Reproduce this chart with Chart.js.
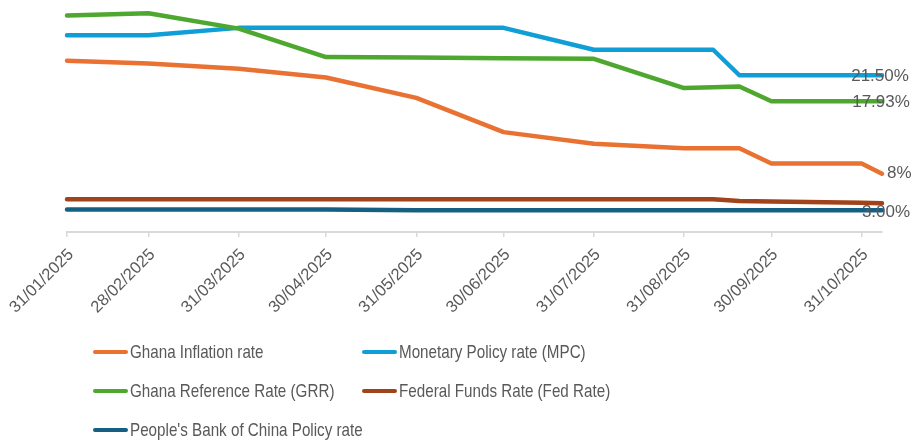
<!DOCTYPE html>
<html>
<head>
<meta charset="utf-8">
<script src="https://cdn.jsdelivr.net/npm/chart.js@4"></script>
<style>
    html, body { margin: 0; padding: 0; background: #fff; }
    #wrap { position: relative; width: 914px; height: 440px; }
    #legend {
        position: absolute; left: 93px; top: 332px;
        display: grid; grid-template-columns: 269px 400px; row-gap: 0;
        font: 19px 'Liberation Sans', Arial, sans-serif;
        color: #595959;
    }
    #legend .item { display: flex; align-items: center; height: 39px; white-space: nowrap; }
    #legend .swatch { flex: 0 0 35px; width: 35px; height: 4px; border-radius: 2px; margin-right: 2px; }
    #legend .txt { display: inline-block; transform: scaleX(0.8); transform-origin: left center; }
</style>
</head>
<body>
<div id="wrap">
    <canvas id="chart-tasas" width="914" height="440"></canvas>
    <div id="legend"></div>
</div>
<script>
// Fechas de cada observación (eje de fechas, en días desde 31/01/2025)
const fechas = ['2025-01-31', '2025-02-28', '2025-03-31', '2025-04-30', '2025-05-31', '2025-06-30',
    '2025-07-31', '2025-08-31', '2025-09-10', '2025-09-19', '2025-09-30', '2025-10-31', '2025-11-07'];

const inflacionGhana = [23.5, 23.1, 22.4, 21.2, 18.4, 13.7, 12.1, 11.5, 11.5, 11.5, 9.4, 9.4, 8.0];
const tasaMPC       = [27, 27, 28, 28, 28, 28, 25, 25, 25, 21.5, 21.5, 21.5, 21.5];
const tasaGRR       = [29.7, 30.0, 27.9, 24.0, 23.95, 23.85, 23.75, 19.75, 19.85, 19.95, 17.93, 17.93, 17.93];
const tasaFed       = [4.5, 4.5, 4.5, 4.5, 4.5, 4.5, 4.5, 4.5, 4.5, 4.25, 4.2, 4.0, 3.95];
const tasaPBoC      = [3.1, 3.1, 3.1, 3.1, 3.0, 3.0, 3.0, 3.0, 3.0, 3.0, 3.0, 3.0, 3.0];

const seriesNombres = ['Ghana Inflation rate', 'Monetary Policy rate (MPC)', 'Ghana Reference Rate (GRR)',
    'Federal Funds Rate (Fed Rate)', "People's Bank of China Policy rate"];
const etiquetasFinales = ['8%', '21.50%', '17.93%', '', '3.00%'];

const ticksFechas = ['2025-01-31', '2025-02-28', '2025-03-31', '2025-04-30', '2025-05-31',
    '2025-06-30', '2025-07-31', '2025-08-31', '2025-09-30', '2025-10-31'];
const ticksEtiquetas = ['31/01/2025', '28/02/2025', '31/03/2025', '30/04/2025', '31/05/2025',
    '30/06/2025', '31/07/2025', '31/08/2025', '30/09/2025', '31/10/2025'];

const colores = ['#E97132', '#0F9ED5', '#4EA72E', '#A0431A', '#156082'];

// convertir fecha -> días desde el origen
const origen = Date.UTC(2025, 0, 31);
const aDias = function(s) {
    const p = s.split('-').map(Number);
    return Math.round((Date.UTC(p[0], p[1] - 1, p[2]) - origen) / 86400000);
};
const dias = fechas.map(aDias);
const diasTicks = ticksFechas.map(aDias);

const valores = [inflacionGhana, tasaMPC, tasaGRR, tasaFed, tasaPBoC];

// offsets de las etiquetas de datos sobre el último punto
const etiquetaPos = [
    { dx: 5, dy: 0, align: 'left' },
    { dx: -2, dy: 1, align: 'center' },
    { dx: -1, dy: 1, align: 'center' },
    { dx: 0, dy: 0, align: 'center' },
    { dx: 4, dy: 2, align: 'center' }
];

const pluginEtiquetas = {
    id: 'etiquetasFinales',
    afterDatasetsDraw(chart) {
        const ctx = chart.ctx;
        ctx.save();
        ctx.font = '17px "Liberation Sans", Arial, sans-serif';
        ctx.fillStyle = '#595959';
        ctx.textBaseline = 'middle';
        chart.data.datasets.forEach((ds, i) => {
            const txt = etiquetasFinales[i];
            if (!txt) return;
            const meta = chart.getDatasetMeta(i);
            const pt = meta.data[meta.data.length - 1];
            ctx.textAlign = etiquetaPos[i].align;
            ctx.fillText(txt, pt.x + etiquetaPos[i].dx, pt.y + etiquetaPos[i].dy);
        });
        ctx.restore();
    }
};

const chart = new Chart(document.getElementById('chart-tasas').getContext('2d'), {
    type: 'line',
    data: {
        datasets: valores.map((serie, i) => ({
            label: seriesNombres[i],
            data: serie.map((v, j) => ({ x: dias[j], y: v })),
            borderColor: colores[i],
            backgroundColor: colores[i],
            borderWidth: 4.5,
            borderCapStyle: 'round',
            borderJoinStyle: 'round',
            pointRadius: 0,
            tension: 0,
            clip: false,
            order: 5 - i
        }))
    },
    options: {
        responsive: false,
        animation: false,
        devicePixelRatio: 1,
        layout: { padding: { left: 67, right: 32, top: 6, bottom: 108 } },
        plugins: { legend: { display: false }, tooltip: { enabled: false } },
        scales: {
            x: {
                type: 'linear',
                min: 0,
                max: dias[dias.length - 1],
                afterBuildTicks: function(scale) {
                    scale.ticks = diasTicks.map(v => ({ value: v }));
                },
                afterFit: function(scale) { scale.height = 100; },
                ticks: {
                    autoSkip: false,
                    minRotation: 45,
                    maxRotation: 45,
                    padding: 8,
                    labelOffset: 4,
                    color: '#595959',
                    font: { family: "'Liberation Sans', Arial, sans-serif", size: 16.5 },
                    callback: function(v, idx) { return ticksEtiquetas[idx]; }
                },
                grid: { drawOnChartArea: false, drawTicks: true, tickLength: 5, color: '#d9d9d9', lineWidth: 1.5 },
                border: { color: '#d9d9d9', width: 2 }
            },
            y: { display: false, min: 0, max: 31 }
        }
    },
    plugins: [pluginEtiquetas]
});

// leyenda en dos columnas
const leyenda = document.getElementById('legend');
seriesNombres.forEach((nombre, i) => {
    const item = document.createElement('div');
    item.className = 'item';
    item.innerHTML = '<span class="swatch" style="background:' + colores[i] + '"></span>' +
        '<span class="txt">' + nombre + '</span>';
    leyenda.appendChild(item);
});
</script>
</body>
</html>
